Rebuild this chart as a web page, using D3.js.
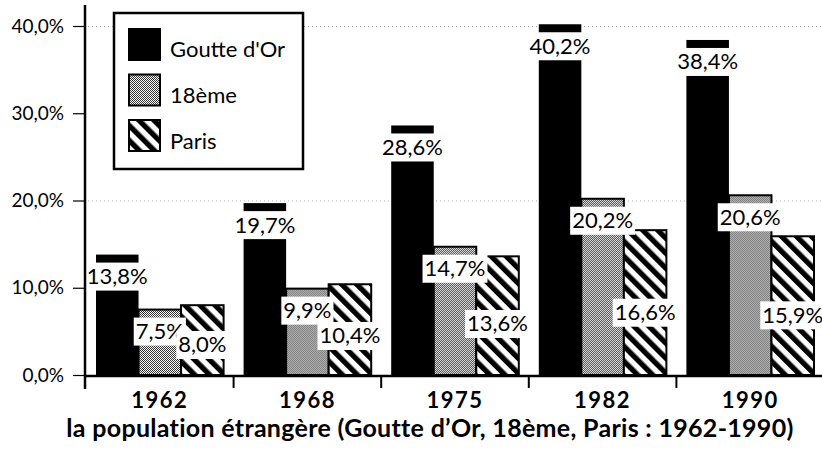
<!DOCTYPE html>
<html>
<head>
<meta charset="utf-8">
<script src="https://cdn.jsdelivr.net/npm/d3@7"></script>
<style>
  body { margin: 0; background: #fff; }
  svg { display: block; font-family: Lato, "Noto Sans", sans-serif; }
</style>
</head>
<body>
<svg id="chart" width="822" height="451"></svg>
<script>
// data
var years = ["1962", "1968", "1975", "1982", "1990"];
var seriesNames = ["Goutte d'Or", "18ème", "Paris"];
var goutteDOr = [13.8, 19.7, 28.6, 40.2, 38.4];
var dixHuitieme = [7.5, 9.9, 14.7, 20.2, 20.6];
var paris = [8.0, 10.4, 13.6, 16.6, 15.9];
var yTicks = [0, 10, 20, 30, 40];
var gridTicks = [20, 40];
var title = "la population étrangère (Goutte d\u2019Or, 18ème, Paris : 1962-1990)";

var values = [goutteDOr, dixHuitieme, paris];
var fills = ["#000", "url(#dots)", "url(#stripes)"];
// where each series puts its value label
var labelMode = ["top", "top", "mid"];

var svg = d3.select("#chart");

var defs = svg.append("defs");
var dots = defs.append("pattern")
  .attr("id", "dots").attr("width", 2).attr("height", 2)
  .attr("patternUnits", "userSpaceOnUse");
dots.append("rect").attr("width", 2).attr("height", 2).attr("fill", "#fff");
dots.append("rect").attr("width", 1).attr("height", 1).attr("fill", "#333");
dots.append("rect").attr("x", 1).attr("y", 1).attr("width", 1).attr("height", 1).attr("fill", "#333");

var stripes = defs.append("pattern")
  .attr("id", "stripes").attr("width", 10.6).attr("height", 10)
  .attr("patternUnits", "userSpaceOnUse")
  .attr("patternTransform", "rotate(-45)");
stripes.append("rect").attr("width", 10.6).attr("height", 10).attr("fill", "#fff");
stripes.append("rect").attr("width", 5.3).attr("height", 10).attr("fill", "#000");

var x0 = d3.scaleBand().domain(years).range([86, 824]);
var x1 = d3.scaleBand().domain(d3.range(3)).range([10, x0.bandwidth() - 10]);
var y = d3.scaleLinear().domain([0, 40]).range([375, 26]);

function fmt(v) { return v.toFixed(1).replace(".", ",") + "%"; }

// dotted grid
svg.append("g").selectAll("line")
  .data(gridTicks)
  .enter().append("line")
  .attr("x1", 88).attr("x2", 822)
  .attr("y1", function(d) { return y(d) + 0.5; })
  .attr("y2", function(d) { return y(d) + 0.5; })
  .attr("stroke", "#aaa")
  .attr("stroke-width", 1)
  .attr("stroke-dasharray", "1,3");

// bars
var groups = svg.append("g").selectAll("g")
  .data(years)
  .enter().append("g")
  .attr("transform", function(d) { return "translate(" + x0(d) + ",0)"; });

groups.selectAll("rect")
  .data(function(d, i) { return values.map(function(s, k) { return { k: k, v: s[i] }; }); })
  .enter().append("rect")
  .attr("x", function(d) { return x1(d.k); })
  .attr("y", function(d) { return y(d.v); })
  .attr("width", x1.bandwidth())
  .attr("height", function(d) { return y(0) - y(d.v); })
  .attr("fill", function(d) { return fills[d.k]; })
  .attr("stroke", "#000")
  .attr("stroke-width", function(d) { return d.k == 0 ? 0 : 2; });

// labels on white boxes, drawn over every bar
var labels = svg.append("g");
years.forEach(function(yr, i) {
  values.forEach(function(s, k) {
    var v = s[i];
    var cx = x0(yr) + x1(k) + x1.bandwidth() / 2;
    var cy = labelMode[k] == "top" ? y(v) + 22 : y(v * 0.43);
    var g = labels.append("g");
    var t = g.append("text")
      .attr("x", cx).attr("y", cy + 7.5)
      .attr("text-anchor", "middle")
      .attr("font-size", 22)
      .text(fmt(v));
    var w = t.node().getComputedTextLength();
    g.insert("rect", "text")
      .attr("x", cx - w / 2 - 2).attr("y", cy - 14)
      .attr("width", w + 4).attr("height", 28)
      .attr("fill", "#fff");
  });
});

// y axis
var yAxis = svg.append("g")
  .attr("transform", "translate(85,0)")
  .call(d3.axisLeft(y).tickValues(yTicks).tickSize(12).tickPadding(9).tickFormat(fmt));
yAxis.select(".domain").remove();
yAxis.selectAll(".tick line").attr("stroke-width", 1.2);
yAxis.selectAll(".tick text").attr("font-size", 19).attr("font-family", "Lato").attr("fill", "#000");

svg.append("line")
  .attr("x1", 85).attr("x2", 85).attr("y1", 5).attr("y2", 389)
  .attr("stroke", "#000").attr("stroke-width", 2.5);

// x axis
var xAxis = svg.append("g")
  .attr("transform", "translate(0,376)")
  .call(d3.axisBottom(x0).tickSize(0).tickPadding(16));
xAxis.select(".domain").remove();
xAxis.selectAll(".tick text")
  .attr("font-size", 22).attr("font-weight", "bold").attr("font-family", "Lato")
  .attr("letter-spacing", 1.5).attr("fill", "#000");

svg.append("line")
  .attr("x1", 85).attr("x2", 822).attr("y1", 376).attr("y2", 376)
  .attr("stroke", "#000").attr("stroke-width", 2.5);

svg.append("g").selectAll("line")
  .data(years.slice(1))
  .enter().append("line")
  .attr("x1", function(d) { return x0(d); })
  .attr("x2", function(d) { return x0(d); })
  .attr("y1", 376).attr("y2", 388)
  .attr("stroke", "#000").attr("stroke-width", 2);

// legend
var legend = svg.append("g");
legend.append("rect")
  .attr("x", 114).attr("y", 13).attr("width", 189).attr("height", 156)
  .attr("fill", "#fff").attr("stroke", "#000").attr("stroke-width", 2.5);
seriesNames.forEach(function(name, k) {
  legend.append("rect")
    .attr("x", 129).attr("y", 29 + k * 45.5)
    .attr("width", 31).attr("height", 31)
    .attr("fill", fills[k]).attr("stroke", "#000").attr("stroke-width", 2);
  legend.append("text")
    .attr("x", 170).attr("y", 57 + k * 46)
    .attr("font-size", 22)
    .text(name);
});

// title
svg.append("text")
  .attr("x", 430).attr("y", 437)
  .attr("text-anchor", "middle")
  .attr("font-size", 25).attr("font-weight", "bold")
  .attr("letter-spacing", 0.3)
  .text(title);
</script>
</body>
</html>
